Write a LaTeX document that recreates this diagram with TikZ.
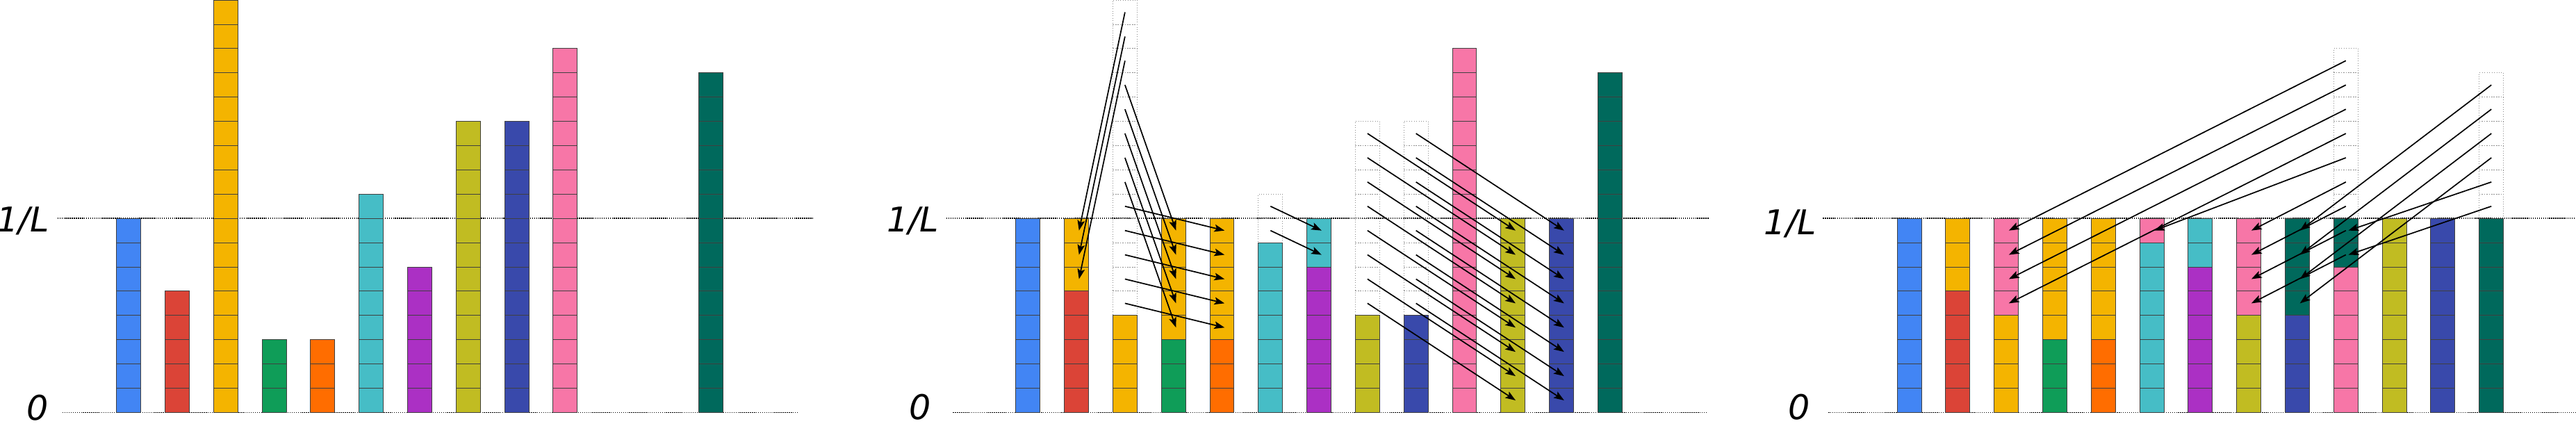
\documentclass[tikz,border=0pt]{standalone}
\usepackage{fontspec}
\newfontfamily\lblfont{DejaVu Sans}
\usetikzlibrary{arrows.meta}
\definecolor{cBlue}{HTML}{4285F4}
\definecolor{cRed}{HTML}{DB4437}
\definecolor{cYellow}{HTML}{F4B400}
\definecolor{cGreen}{HTML}{0F9D58}
\definecolor{cOrange}{HTML}{FF6D00}
\definecolor{cCyan}{HTML}{46BDC6}
\definecolor{cPurple}{HTML}{AB30C4}
\definecolor{cOlive}{HTML}{C1BC22}
\definecolor{cNavy}{HTML}{3949AB}
\definecolor{cPink}{HTML}{F776A7}
\definecolor{cTeal}{HTML}{00695C}
\tikzset{
  cellbox/.style={rectangle, draw=black!75, line width=0.8pt, minimum width=1cm, minimum height=1cm, inner sep=0pt, outer sep=0pt},
  ghostbox/.style={rectangle, draw=black!45, dotted, line width=0.8pt, minimum width=1cm, minimum height=1cm, inner sep=0pt, outer sep=0pt},
  guide/.style={line width=1.2pt, dash pattern=on 1.2pt off 1.2pt},
  arr/.style={line width=1.4pt, -{Stealth[length=12pt,width=8.7pt,inset=2.5pt]}},
  lbl/.style={font=\lblfont\itshape\fontsize{40}{40}\selectfont, inner sep=0pt, anchor=base east},
}
% #1 panel id, #2 x offset, #3 column, #4 first row, #5 last row, #6 style
\newcommand{\mkcells}[6]{%
  \foreach \r in {#4,...,#5}{%
    \node[#6] (c#1-#3-\r) at ({#2+2*(#3-1)+0.5},{\r+0.5}) {};
  }%
}
% arrow from cell to cell (target point slightly right of centre, as in the reference)
\newcommand{\mv}[2]{\draw[arr] (#1.center) -- ([xshift=3pt]#2.center);}
\begin{document}
\begin{tikzpicture}
\useasboundingbox (-4.805,-0.447) rectangle (101.41,17.003);
% guide lines
\coordinate (gA1) at (-2.435,8); \coordinate (gA2) at (28.73,8);
\coordinate (gA3) at (-2.226,0); \coordinate (gA4) at (28.12,0);
\coordinate (gB1) at (34.22,8); \coordinate (gB2) at (65.66,8);
\coordinate (gB3) at (34.49,0); \coordinate (gB4) at (65.57,0);
\coordinate (gC1) at (70.36,8); \coordinate (gC2) at (101.5,8);
\coordinate (gC3) at (70.58,0); \coordinate (gC4) at (101.5,0);
\draw[guide] (gA1) -- (gA2); \draw[guide] (gA3) -- (gA4);
\draw[guide] (gB1) -- (gB2); \draw[guide] (gB3) -- (gB4);
\draw[guide] (gC1) -- (gC2); \draw[guide] (gC3) -- (gC4);
% labels
\node[lbl] (lA1) at (-2.77,7.45) {1/L};
\node[lbl] (lA0) at (-2.80,-0.31) {0};
\node[lbl] (lB1) at (33.92,7.45) {1/L};
\node[lbl] (lB0) at (33.58,-0.28) {0};
\node[lbl] (lC1) at (70.10,7.33) {1/L};
\node[lbl] (lC0) at (69.84,-0.28) {0};
% ---------------- panel A
\def\oA{0}
\mkcells{A}{\oA}{1}{0}{7}{cellbox,fill=cBlue}
\mkcells{A}{\oA}{2}{0}{4}{cellbox,fill=cRed}
\mkcells{A}{\oA}{3}{0}{16}{cellbox,fill=cYellow}
\mkcells{A}{\oA}{4}{0}{2}{cellbox,fill=cGreen}
\mkcells{A}{\oA}{5}{0}{2}{cellbox,fill=cOrange}
\mkcells{A}{\oA}{6}{0}{8}{cellbox,fill=cCyan}
\mkcells{A}{\oA}{7}{0}{5}{cellbox,fill=cPurple}
\mkcells{A}{\oA}{8}{0}{11}{cellbox,fill=cOlive}
\mkcells{A}{\oA}{9}{0}{11}{cellbox,fill=cNavy}
\mkcells{A}{\oA}{10}{0}{14}{cellbox,fill=cPink}
\mkcells{A}{\oA}{13}{0}{13}{cellbox,fill=cTeal}
% ---------------- panel B
\def\oB{37.08}
\mkcells{B}{\oB}{3}{4}{16}{ghostbox}
\mkcells{B}{\oB}{6}{7}{8}{ghostbox}
\mkcells{B}{\oB}{8}{4}{11}{ghostbox}
\mkcells{B}{\oB}{9}{4}{11}{ghostbox}
\mkcells{B}{\oB}{1}{0}{7}{cellbox,fill=cBlue}
\mkcells{B}{\oB}{2}{0}{4}{cellbox,fill=cRed}
\mkcells{B}{\oB}{2}{5}{7}{cellbox,fill=cYellow}
\mkcells{B}{\oB}{3}{0}{3}{cellbox,fill=cYellow}
\mkcells{B}{\oB}{4}{0}{2}{cellbox,fill=cGreen}
\mkcells{B}{\oB}{4}{3}{7}{cellbox,fill=cYellow}
\mkcells{B}{\oB}{5}{0}{2}{cellbox,fill=cOrange}
\mkcells{B}{\oB}{5}{3}{7}{cellbox,fill=cYellow}
\mkcells{B}{\oB}{6}{0}{6}{cellbox,fill=cCyan}
\mkcells{B}{\oB}{7}{0}{5}{cellbox,fill=cPurple}
\mkcells{B}{\oB}{7}{6}{7}{cellbox,fill=cCyan}
\mkcells{B}{\oB}{8}{0}{3}{cellbox,fill=cOlive}
\mkcells{B}{\oB}{9}{0}{3}{cellbox,fill=cNavy}
\mkcells{B}{\oB}{10}{0}{14}{cellbox,fill=cPink}
\mkcells{B}{\oB}{11}{0}{7}{cellbox,fill=cOlive}
\mkcells{B}{\oB}{12}{0}{7}{cellbox,fill=cNavy}
\mkcells{B}{\oB}{13}{0}{13}{cellbox,fill=cTeal}
\foreach \s/\t in {16/7,15/6,14/5} {\mv{cB-3-\s}{cB-2-\t}}
\foreach \s/\t in {13/7,12/6,11/5,10/4,9/3} {\mv{cB-3-\s}{cB-4-\t}}
\foreach \s/\t in {8/7,7/6,6/5,5/4,4/3} {\mv{cB-3-\s}{cB-5-\t}}
\foreach \s/\t in {8/7,7/6} {\mv{cB-6-\s}{cB-7-\t}}
\foreach \s/\t in {11/7,10/6,9/5,8/4,7/3,6/2,5/1,4/0} {\mv{cB-8-\s}{cB-11-\t}}
\foreach \s/\t in {11/7,10/6,9/5,8/4,7/3,6/2,5/1,4/0} {\mv{cB-9-\s}{cB-12-\t}}
% ---------------- panel C
\def\oC{73.42}
\mkcells{C}{\oC}{10}{8}{14}{ghostbox}
\mkcells{C}{\oC}{13}{8}{13}{ghostbox}
\mkcells{C}{\oC}{1}{0}{7}{cellbox,fill=cBlue}
\mkcells{C}{\oC}{2}{0}{4}{cellbox,fill=cRed}
\mkcells{C}{\oC}{2}{5}{7}{cellbox,fill=cYellow}
\mkcells{C}{\oC}{3}{0}{3}{cellbox,fill=cYellow}
\mkcells{C}{\oC}{3}{4}{7}{cellbox,fill=cPink}
\mkcells{C}{\oC}{4}{0}{2}{cellbox,fill=cGreen}
\mkcells{C}{\oC}{4}{3}{7}{cellbox,fill=cYellow}
\mkcells{C}{\oC}{5}{0}{2}{cellbox,fill=cOrange}
\mkcells{C}{\oC}{5}{3}{7}{cellbox,fill=cYellow}
\mkcells{C}{\oC}{6}{0}{6}{cellbox,fill=cCyan}
\mkcells{C}{\oC}{6}{7}{7}{cellbox,fill=cPink}
\mkcells{C}{\oC}{7}{0}{5}{cellbox,fill=cPurple}
\mkcells{C}{\oC}{7}{6}{7}{cellbox,fill=cCyan}
\mkcells{C}{\oC}{8}{0}{3}{cellbox,fill=cOlive}
\mkcells{C}{\oC}{8}{4}{7}{cellbox,fill=cPink}
\mkcells{C}{\oC}{9}{0}{3}{cellbox,fill=cNavy}
\mkcells{C}{\oC}{9}{4}{7}{cellbox,fill=cTeal}
\mkcells{C}{\oC}{10}{0}{5}{cellbox,fill=cPink}
\mkcells{C}{\oC}{10}{6}{7}{cellbox,fill=cTeal}
\mkcells{C}{\oC}{11}{0}{7}{cellbox,fill=cOlive}
\mkcells{C}{\oC}{12}{0}{7}{cellbox,fill=cNavy}
\mkcells{C}{\oC}{13}{0}{7}{cellbox,fill=cTeal}
\foreach \s/\t in {14/7,13/6,12/5,11/4} {\mv{cC-10-\s}{cC-3-\t}}
\foreach \s/\t in {10/7} {\mv{cC-10-\s}{cC-6-\t}}
\foreach \s/\t in {9/7,8/6,7/5,6/4} {\mv{cC-10-\s}{cC-8-\t}}
\foreach \s/\t in {13/7,12/6,11/5,10/4} {\mv{cC-13-\s}{cC-9-\t}}
\foreach \s/\t in {9/7,8/6} {\mv{cC-13-\s}{cC-10-\t}}
\end{tikzpicture}
\end{document}
